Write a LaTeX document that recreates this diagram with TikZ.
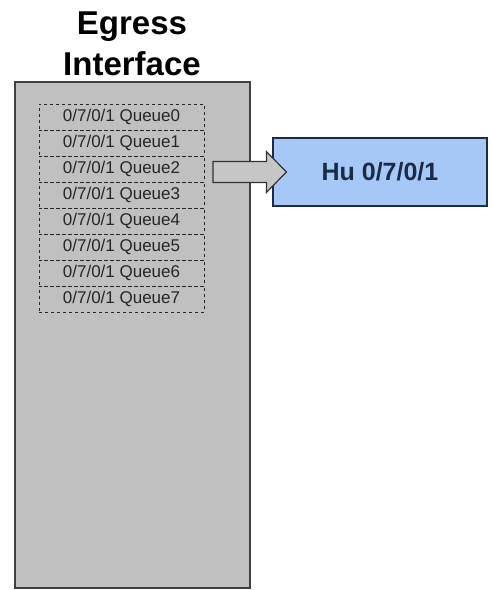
\documentclass[tikz,border=0pt]{standalone}
\usepackage{fontspec}
\setmainfont{Liberation Sans}
\usetikzlibrary{positioning}
\usetikzlibrary{calc}
\definecolor{panelgray}{HTML}{C0C0C0}
\definecolor{portblue}{HTML}{A6C8F7}
\definecolor{portnavy}{HTML}{1B2A45}

\begin{document}
\begin{tikzpicture}[x=1pt,y=-1pt,
		queue/.style={draw=black!85,dashed,line width=0.8pt,minimum width=165pt,minimum height=26pt,inner sep=0pt,outer sep=0pt,text=black!85,font=\fontsize{17}{20}\selectfont},
		port/.style={draw=portnavy,line width=1.2pt,fill=portblue,minimum width=214pt,minimum height=68pt,text=portnavy,font=\bfseries\fontsize{25}{30}\selectfont}]
	\useasboundingbox (0,0) rectangle (491,590);
	\node[draw=black!75,line width=1.5pt,fill=panelgray,minimum width=235pt,minimum height=506pt,outer sep=0pt] (egress) at (132.5,335) {};
	\node[align=center,font=\bfseries\fontsize{33}{41}\selectfont,inner sep=0pt] (title) at (132,44) {Egress\\Interface};
	\node[queue] (q0) at (121.5,117) {0/7/0/1 Queue0};
	\foreach \i [remember=\i as \j (initially 0)] in {1,...,7}
		\node[queue,below=0pt of q\j] (q\i) {0/7/0/1 Queue\i};
	\node[port] (hu) at (380,172) {Hu 0/7/0/1};
	% block arrow from the queues into the port
	\coordinate (tail) at ([xshift=9pt]q2.east |- hu.west);
	\coordinate (tip) at ([xshift=14pt]hu.west);
	\draw[draw=black!80,line width=1.2pt,fill=panelgray!90!white,line join=miter]
		($(tail)+(0,-10.5)$) -- ($(tip)+(-20,-10.5)$) -- ($(tip)+(-20,-20.5)$) -- (tip)
		-- ($(tip)+(-20,20.5)$) -- ($(tip)+(-20,10.5)$) -- ($(tail)+(0,10.5)$) -- cycle;
\end{tikzpicture}
\end{document}
